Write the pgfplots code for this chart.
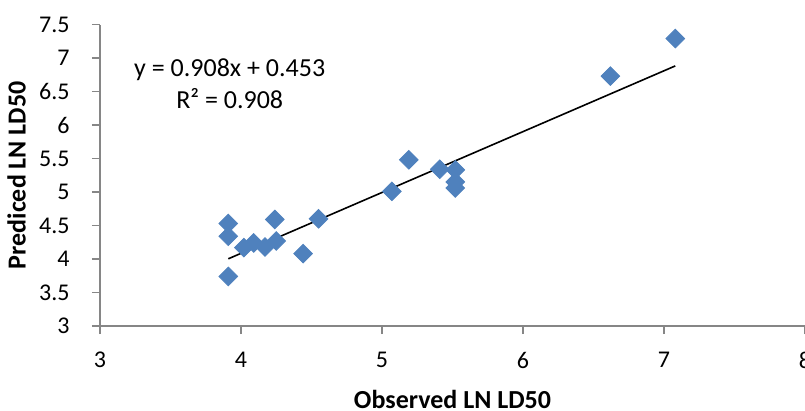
\documentclass[border=0pt]{standalone}
\usepackage{pgfplots}
\pgfplotsset{compat=1.18}
\usepackage{fontspec}
\setmainfont{Carlito}
\definecolor{xlblue}{HTML}{4F81BD}
\definecolor{xlgray}{HTML}{868686}
\begin{document}
\fontsize{12bp}{14bp}\selectfont
\begin{tikzpicture}
\begin{axis}[
    at={(0,0)}, anchor=south west,
    scale only axis,
    width=352.5bp, height=150.75bp,
    xmin=3, xmax=8, ymin=3, ymax=7.5,
    xtick={3,4,5,6,7,8},
    ytick={3,3.5,4,4.5,5,5.5,6,6.5,7,7.5},
    axis x line*=bottom, axis y line*=left,
    axis line style={xlgray, line width=0.6bp},
    tick style={xlgray, line width=0.6bp},
    tick align=outside, major tick length=4bp,
    minor tick num=0,
    /pgf/number format/assume math mode=true,
    ticklabel style={font=\fontsize{12bp}{14bp}\selectfont},
    yticklabel style={xshift=-7bp},
    xticklabel style={yshift=-5bp},
    xlabel={\bfseries Observed LN LD50},
    ylabel={\bfseries Prediced LN LD50},
    label style={font=\fontsize{13bp}{15bp}\selectfont},
    xlabel style={yshift=-2.5bp},
    ylabel style={yshift=-1.5bp},
    clip=false,
]
% observed vs predicted
\addplot[only marks, mark=square*, mark size=3.3bp,
    mark options={rotate=45, fill=xlblue, draw=xlblue}] coordinates {
    (3.91, 4.53)
    (3.91, 4.34)
    (3.91, 3.74)
    (4.02, 4.17)
    (4.09, 4.24)
    (4.17, 4.18)
    (4.24, 4.59)
    (4.25, 4.27)
    (4.44, 4.08)
    (4.55, 4.60)
    (5.07, 5.01)
    (5.19, 5.48)
    (5.41, 5.34)
    (5.52, 5.33)
    (5.52, 5.15)
    (5.52, 5.06)
    (6.62, 6.73)
    (7.08, 7.29)
};
% linear trendline y = 0.908x + 0.453
\addplot[black, line width=0.8bp] coordinates {(3.91, 4.003) (7.08, 6.882)};
\node[align=center, font=\fontsize{13bp}{16bp}\selectfont] at (axis cs:3.92,6.61)
    {y = 0.908x + 0.453\\R² = 0.908};
\end{axis}
\pgfresetboundingbox
\path (-50bp,-42.5bp) rectangle (352.5bp,163bp);
\end{tikzpicture}
\end{document}
